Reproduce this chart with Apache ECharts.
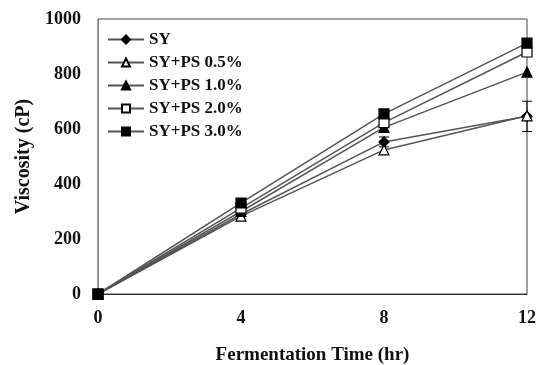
<!DOCTYPE html>
<html>
<head>
<meta charset="utf-8">
<script src="https://cdn.jsdelivr.net/npm/echarts@6/dist/echarts.min.js"></script>
<style>
    html, body { margin: 0; padding: 0; background: #fff; }
    #main { width: 545px; height: 365px; }
</style>
</head>
<body>
<div id="main"></div>
<script>
// 数据
var hours = [0, 4, 8, 12];
var seriesNames = ['SY', 'SY+PS 0.5%', 'SY+PS 1.0%', 'SY+PS 2.0%', 'SY+PS 3.0%'];
var sy = [0, 290, 553, 646];
var ps05 = [0, 283, 524, 648];
var ps10 = [0, 300, 606, 807];
var ps20 = [0, 312, 623, 880];
var ps30 = [0, 331, 655, 912];
var syErr = [0, 8, 18, 55];
var yTicks = [0, 200, 400, 600, 800, 1000];

var serif = '"Liberation Serif", "DejaVu Serif", serif';
var lineColor = '#555';

function pairs(vals){
    var out = [];
    for(var i = 0; i < hours.length; i++){
        out.push([hours[i], vals[i]]);
    }
    return out;
}

// 每条线的样式
function makeLine(name, vals, symbol, fill){
    return {
        name: name,
        type: 'line',
        data: pairs(vals),
        symbol: symbol,
        symbolSize: 10,
        showAllSymbol: true,
        lineStyle: { color: lineColor, width: 1.5 },
        itemStyle: { color: fill, borderColor: '#000', borderWidth: 1.2 },
        emphasis: { disabled: true },
        z: 2,
        animation: false
    };
}

var myChart = echarts.init(document.getElementById('main'));

var option = {
    backgroundColor: '#fff',
    animation: false,
    grid: {
        left: 98, right: 18, top: 19, bottom: 71,
        outerBoundsMode: 'none',
        containLabel: false,
        show: true, borderColor: '#444', borderWidth: 1
    },
    legend: {
        orient: 'vertical',
        left: 102, top: 26,
        itemWidth: 36, itemHeight: 10, itemGap: 6,
        data: seriesNames,
        textStyle: { fontFamily: serif, fontWeight: 'bold', fontSize: 17, color: '#111' }
    },
    xAxis: {
        type: 'value',
        min: 0, max: 12, interval: 4,
        name: 'Fermentation Time (hr)',
        nameLocation: 'middle',
        nameGap: 52,
        nameTextStyle: { fontFamily: serif, fontWeight: 'bold', fontSize: 19, color: '#111' },
        axisLine: { lineStyle: { color: '#333', width: 1 } },
        axisTick: { show: false },
        splitLine: { show: false },
        axisLabel: { fontFamily: serif, fontWeight: 'bold', fontSize: 18, color: '#111', margin: 15 }
    },
    yAxis: {
        type: 'value',
        min: 0, max: 1000, interval: 200,
        name: 'Viscosity (cP)',
        nameLocation: 'middle',
        nameGap: 62,
        nameTextStyle: { fontFamily: serif, fontWeight: 'bold', fontSize: 20, color: '#111' },
        axisLine: { show: true, lineStyle: { color: '#888', width: 1 } },
        axisTick: { show: false },
        splitLine: { show: false },
        axisLabel: {
            fontFamily: serif, fontWeight: 'bold', fontSize: 18, color: '#111', margin: 17,
            formatter: function(v){ return yTicks.indexOf(v) >= 0 ? String(v) : ''; }
        }
    },
    series: [
        makeLine(seriesNames[0], sy, 'diamond', '#000'),
        makeLine(seriesNames[1], ps05, 'triangle', '#fff'),
        makeLine(seriesNames[2], ps10, 'triangle', '#000'),
        makeLine(seriesNames[3], ps20, 'rect', '#fff'),
        makeLine(seriesNames[4], ps30, 'rect', '#000'),
        {
            // SY 误差线
            type: 'custom',
            name: 'err',
            data: hours.map(function(h, i){ return [h, sy[i] - syErr[i], sy[i] + syErr[i]]; }),
            renderItem: function(params, api){
                var lo = api.coord([api.value(0), api.value(1)]);
                var hi = api.coord([api.value(0), api.value(2)]);
                var w = 5;
                var st = { stroke: '#000', lineWidth: 1 };
                return {
                    type: 'group',
                    children: [
                        { type: 'line', shape: { x1: hi[0], y1: hi[1], x2: lo[0], y2: lo[1] }, style: st },
                        { type: 'line', shape: { x1: hi[0] - w, y1: hi[1], x2: hi[0] + w, y2: hi[1] }, style: st },
                        { type: 'line', shape: { x1: lo[0] - w, y1: lo[1], x2: lo[0] + w, y2: lo[1] }, style: st }
                    ]
                };
            },
            z: 1,
            silent: true
        }
    ]
};

myChart.setOption(option);
</script>
</body>
</html>
